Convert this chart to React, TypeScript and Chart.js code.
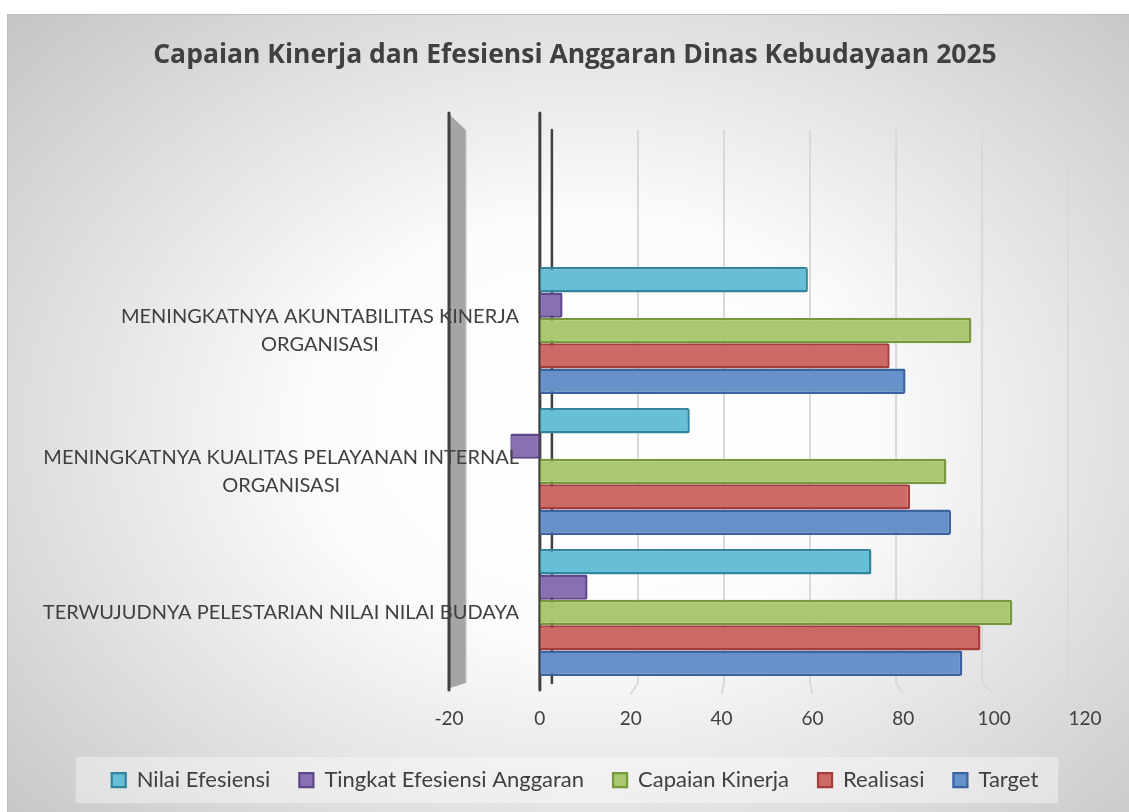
import React, { useEffect, useRef } from "react";
import { Chart, registerables } from "chart.js";

Chart.register(...registerables);

// ---------- data ----------
const categories: string[][] = [
  ["MENINGKATNYA AKUNTABILITAS KINERJA", "ORGANISASI"],
  ["MENINGKATNYA KUALITAS PELAYANAN INTERNAL", "ORGANISASI"],
  ["TERWUJUDNYA PELESTARIAN NILAI NILAI BUDAYA"],
];
const seriesNames = [
  "Nilai Efesiensi",
  "Tingkat Efesiensi Anggaran",
  "Capaian Kinerja",
  "Realisasi",
  "Target",
];
const nilaiEfesiensi = [59, 33, 73];
const tingkatEfesiensiAnggaran = [5, -6.5, 10.5];
const capaianKinerja = [95, 89.5, 104];
const realisasi = [77, 81.5, 97];
const target = [80.5, 90.5, 93];
const xMin = -20;
const xMax = 120;
const xStep = 20;
const chartTitle = "Capaian Kinerja dan Efesiensi Anggaran Dinas Kebudayaan 2025";

// ---------- styles ----------
const fillColors = ["#66bfd6", "#8b70b1", "#a9c871", "#cd6a67", "#6791c9"];
const borderColors = ["#31869e", "#5d4689", "#78983d", "#a53c3a", "#3a63a0"];
const textColor = "#404040";

const decorPlugin = {
  id: "decor",
  beforeDraw(chart: any) {
    const ctx = chart.ctx;
    const lg = chart.legend;
    if (lg && lg.legendHitBoxes && lg.legendHitBoxes.length) {
      const hb = lg.legendHitBoxes;
      const last = hb[hb.length - 1];
      const l = hb[0].left - 36;
      const r = last.left + last.width + 20;
      const t = hb[0].top - 12;
      const b = hb[0].top + hb[0].height + 12;
      ctx.save();
      ctx.fillStyle = "rgba(255,255,255,0.38)";
      ctx.fillRect(l, t, r - l, b - t);
      ctx.restore();
    }
  },
  beforeDatasetsDraw(chart: any) {
    const ctx = chart.ctx;
    const x = chart.scales.x;
    const ca = chart.chartArea;
    const c = x.getPixelForValue(50);
    const k = 0.947;
    const backX = (v: number) => c + (x.getPixelForValue(v) - c) * k;
    const backTop = ca.top - 130;
    const backBottom = ca.bottom;
    const frontTop = ca.top - 147;
    const frontBottom = ca.bottom + 7;
    const floorFront = ca.bottom + 11;

    ctx.save();
    // grid lines on back wall + floor
    ctx.strokeStyle = "#d9d9d9";
    ctx.lineWidth = 2;
    for (let v = xMin + 2 * xStep; v <= xMax; v += xStep) {
      ctx.beginPath();
      ctx.moveTo(backX(v), backTop);
      ctx.lineTo(backX(v), backBottom);
      ctx.lineTo(x.getPixelForValue(v), floorFront);
      ctx.stroke();
    }
    // -20 side wall
    const f = x.getPixelForValue(xMin);
    const bx = backX(xMin);
    ctx.fillStyle = "#a5a5a5";
    ctx.beginPath();
    ctx.moveTo(f + 1, frontTop + 2);
    ctx.lineTo(bx, backTop);
    ctx.lineTo(bx, backBottom);
    ctx.lineTo(f + 1, frontBottom - 2);
    ctx.closePath();
    ctx.fill();
    ctx.strokeStyle = "#d6d6d6";
    ctx.lineWidth = 1;
    ctx.beginPath();
    ctx.moveTo(bx + 0.5, backTop);
    ctx.lineTo(bx + 0.5, backBottom);
    ctx.stroke();

    ctx.strokeStyle = "#404040";
    ctx.lineCap = "round";
    ctx.lineWidth = 3;
    ctx.beginPath();
    ctx.moveTo(f, frontTop);
    ctx.lineTo(f, frontBottom);
    ctx.stroke();

    // zero lines
    const z = x.getPixelForValue(0);
    ctx.lineWidth = 2.5;
    ctx.beginPath();
    ctx.moveTo(backX(0), backTop);
    ctx.lineTo(backX(0), backBottom);
    ctx.stroke();
    ctx.lineWidth = 3;
    ctx.beginPath();
    ctx.moveTo(z, frontTop);
    ctx.lineTo(z, frontBottom);
    ctx.stroke();
    ctx.restore();
  },
  afterDatasetsDraw(chart: any) {
    const ctx = chart.ctx;
    const y = chart.scales.y;
    const x = chart.scales.x;
    const right = x.getPixelForValue(xMin) + 70;
    ctx.save();
    ctx.font = "20px Lato";
    ctx.fillStyle = textColor;
    ctx.textAlign = "center";
    ctx.textBaseline = "middle";
    categories.forEach((lines, i) => {
      const cy = y.getPixelForValue(i);
      const widest = Math.max(...lines.map((t) => ctx.measureText(t).width));
      const cx = right - widest / 2;
      lines.forEach((t, j) => {
        ctx.fillText(t, cx, cy + (j - (lines.length - 1) / 2) * 28.5);
      });
    });
    ctx.restore();
  },
};

export default function App() {
  const ref = useRef<HTMLCanvasElement | null>(null);

  useEffect(() => {
    document.body.style.overflow = "hidden";
    const series = [nilaiEfesiensi, tingkatEfesiensiAnggaran, capaianKinerja, realisasi, target];
    const chart = new Chart(ref.current as HTMLCanvasElement, {
      type: "bar",
      data: {
        labels: categories,
        datasets: series.map((d, i) => ({
          label: seriesNames[i],
          data: d,
          backgroundColor: fillColors[i],
          borderColor: borderColors[i],
          borderWidth: { top: 2.5, right: 2.5, bottom: 2.5, left: 1.5 },
          borderRadius: 2,
          borderSkipped: false,
          categoryPercentage: 0.9,
          barPercentage: 1.0,
        })),
      },
      options: {
        indexAxis: "y",
        animation: false,
        responsive: false,
        layout: { padding: { left: 57, right: 44, top: 0, bottom: 11 } },
        scales: {
          x: {
            type: "linear",
            min: xMin,
            max: xMax,
            ticks: {
              stepSize: xStep,
              font: { family: "Lato", size: 19 },
              color: textColor,
              padding: 24.6,
            },
            grid: { display: false, drawTicks: false },
            border: { display: false },
            afterFit: (s: any) => {
              s.height = 57;
            },
          },
          y: {
            type: "category",
            ticks: { display: false },
            grid: { display: false, drawTicks: false },
            border: { display: false },
            afterFit: (s: any) => {
              s.width = 384;
            },
          },
        },
        plugins: {
          title: {
            display: true,
            text: chartTitle,
            color: textColor,
            font: { family: "Open Sans", size: 26.5, weight: "bold" },
            padding: { top: 24.1, bottom: 189.1 },
          },
          legend: {
            position: "bottom",
            labels: {
              boxWidth: 14,
              boxHeight: 14,
              padding: 29,
              color: textColor,
              font: { family: "Lato", size: 22 },
            },
          },
          tooltip: { enabled: false },
        },
      },
      plugins: [decorPlugin],
    } as any);
    return () => chart.destroy();
  }, []);

  return (
    <div
      style={{
        position: "fixed",
        left: 7,
        top: 14,
        width: 1121,
        height: 797,
        border: "1px solid #bdbdbd",
        background:
          "radial-gradient(ellipse 70% 75% at 52% 52%, #ffffff 0%, #fcfcfc 35%, #c6c6c6 100%)",
      }}
    >
      <canvas ref={ref} width={1121} height={797} style={{ display: "block" }} />
    </div>
  );
}
